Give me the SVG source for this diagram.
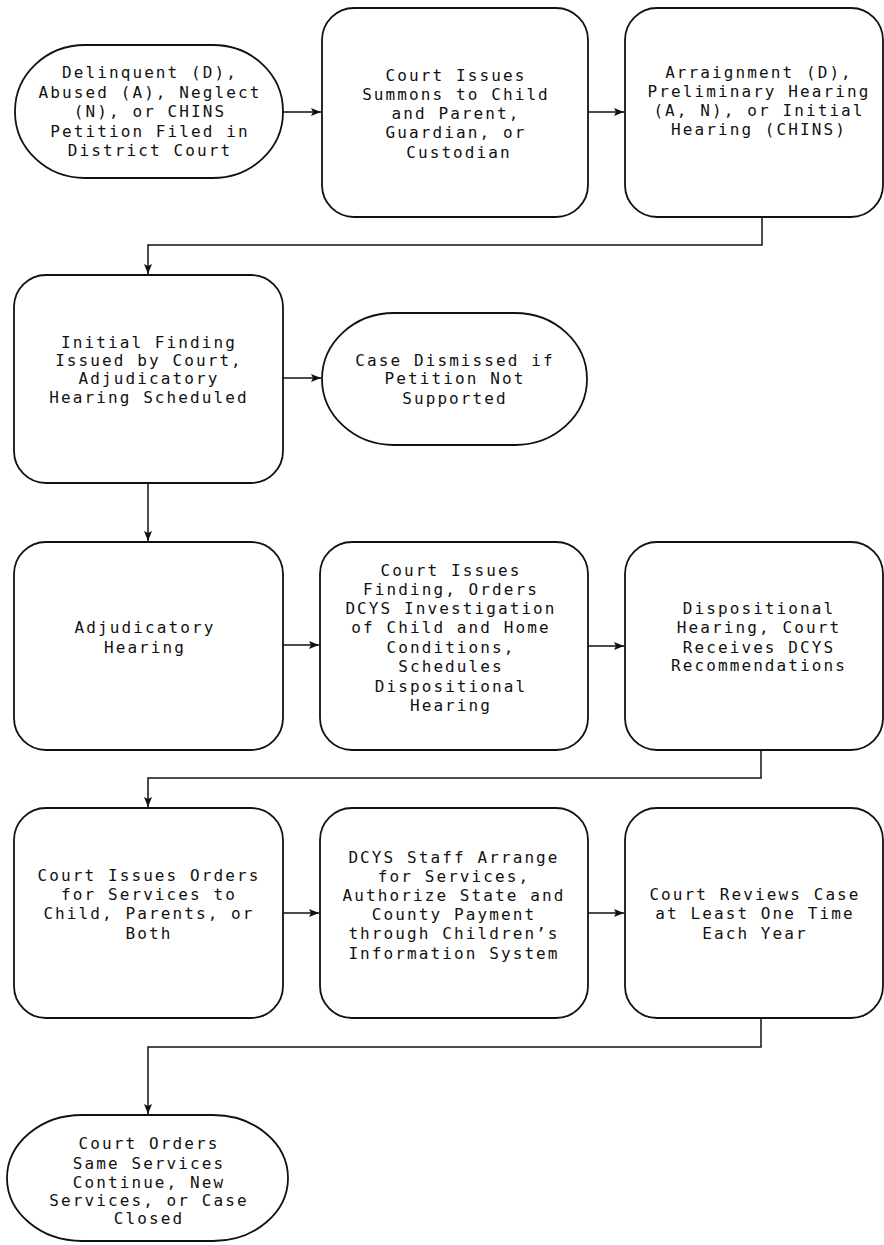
<svg xmlns="http://www.w3.org/2000/svg" width="884" height="1245" viewBox="0 0 884 1245">
<style>
.n{fill:#fff;stroke:#111;stroke-width:1.8}
.c{fill:none;stroke:#111;stroke-width:1.5}
text{font-family:"DejaVu Sans Mono","Liberation Mono",monospace;font-size:16px;letter-spacing:2.1px;fill:#111;text-anchor:middle}
</style>
<defs>
<marker id="ah" viewBox="0 0 10 8" refX="10" refY="4" markerWidth="10" markerHeight="8" markerUnits="userSpaceOnUse" orient="auto">
<path d="M0,0 L10,4 L0,8 L2,4 Z" fill="#111"/>
</marker>
</defs>
<rect width="884" height="1245" fill="#fff"/>
<g id="connectors">
<path class="c" d="M283,112 H321" marker-end="url(#ah)"/>
<path class="c" d="M588,112 H624" marker-end="url(#ah)"/>
<path class="c" d="M762,217 V245 H148 V274" marker-end="url(#ah)"/>
<path class="c" d="M283,378 H321" marker-end="url(#ah)"/>
<path class="c" d="M148,483 V541" marker-end="url(#ah)"/>
<path class="c" d="M283,645 H319" marker-end="url(#ah)"/>
<path class="c" d="M588,646 H624" marker-end="url(#ah)"/>
<path class="c" d="M761,750 V778 H148 V807" marker-end="url(#ah)"/>
<path class="c" d="M283,913 H319" marker-end="url(#ah)"/>
<path class="c" d="M588,913 H624" marker-end="url(#ah)"/>
<path class="c" d="M761,1018 V1047 H148 V1114" marker-end="url(#ah)"/>
</g>
<g id="n1">
<rect class="n" x="15" y="45" width="268" height="133" rx="70" ry="66"/>
<text x="150" y="78">Delinquent (D),</text>
<text x="150" y="98">Abused (A), Neglect</text>
<text x="150" y="117">(N), or CHINS</text>
<text x="150" y="137">Petition Filed in</text>
<text x="150" y="156">District Court</text>
</g>
<g id="n2">
<rect class="n" x="322" y="8" width="266" height="209" rx="32"/>
<text x="456" y="81">Court Issues</text>
<text x="456" y="100">Summons to Child</text>
<text x="456" y="119">and Parent,</text>
<text x="456" y="138">Guardian, or</text>
<text x="459" y="158">Custodian</text>
</g>
<g id="n3">
<rect class="n" x="625" y="8" width="258" height="209" rx="32"/>
<text x="759" y="78">Arraignment (D),</text>
<text x="759" y="97">Preliminary Hearing</text>
<text x="759" y="116">(A, N), or Initial</text>
<text x="759" y="135">Hearing (CHINS)</text>
</g>
<g id="n4">
<rect class="n" x="14" y="275" width="269" height="208" rx="32"/>
<text x="149" y="348">Initial Finding</text>
<text x="149" y="366">Issued by Court,</text>
<text x="149" y="384">Adjudicatory</text>
<text x="149" y="403">Hearing Scheduled</text>
</g>
<g id="n5">
<rect class="n" x="322" y="313" width="265" height="132" rx="72" ry="66"/>
<text x="455" y="366">Case Dismissed if</text>
<text x="455" y="384">Petition Not</text>
<text x="455" y="404">Supported</text>
</g>
<g id="n6">
<rect class="n" x="14" y="542" width="269" height="208" rx="32"/>
<text x="145" y="633">Adjudicatory</text>
<text x="145" y="653">Hearing</text>
</g>
<g id="n7">
<rect class="n" x="320" y="542" width="268" height="208" rx="32"/>
<text x="451" y="576">Court Issues</text>
<text x="451" y="595">Finding, Orders</text>
<text x="451" y="614">DCYS Investigation</text>
<text x="451" y="633">of Child and Home</text>
<text x="451" y="653">Conditions,</text>
<text x="451" y="672">Schedules</text>
<text x="451" y="692">Dispositional</text>
<text x="451" y="711">Hearing</text>
</g>
<g id="n8">
<rect class="n" x="625" y="542" width="258" height="208" rx="32"/>
<text x="759" y="614">Dispositional</text>
<text x="759" y="633">Hearing, Court</text>
<text x="759" y="653">Receives DCYS</text>
<text x="759" y="671">Recommendations</text>
</g>
<g id="n9">
<rect class="n" x="14" y="808" width="269" height="210" rx="32"/>
<text x="149" y="881">Court Issues Orders</text>
<text x="149" y="900">for Services to</text>
<text x="149" y="919">Child, Parents, or</text>
<text x="149" y="939">Both</text>
</g>
<g id="n10">
<rect class="n" x="320" y="808" width="268" height="210" rx="32"/>
<text x="454" y="863">DCYS Staff Arrange</text>
<text x="454" y="882">for Services,</text>
<text x="454" y="901">Authorize State and</text>
<text x="454" y="920">County Payment</text>
<text x="454" y="939">through Children’s</text>
<text x="454" y="959">Information System</text>
</g>
<g id="n11">
<rect class="n" x="625" y="808" width="258" height="210" rx="32"/>
<text x="755" y="900">Court Reviews Case</text>
<text x="755" y="919">at Least One Time</text>
<text x="755" y="939">Each Year</text>
</g>
<g id="n12">
<rect class="n" x="7" y="1115" width="281" height="126" rx="75" ry="63"/>
<text x="149" y="1149">Court Orders</text>
<text x="149" y="1169">Same Services</text>
<text x="149" y="1188">Continue, New</text>
<text x="149" y="1206">Services, or Case</text>
<text x="149" y="1224">Closed</text>
</g>
</svg>
